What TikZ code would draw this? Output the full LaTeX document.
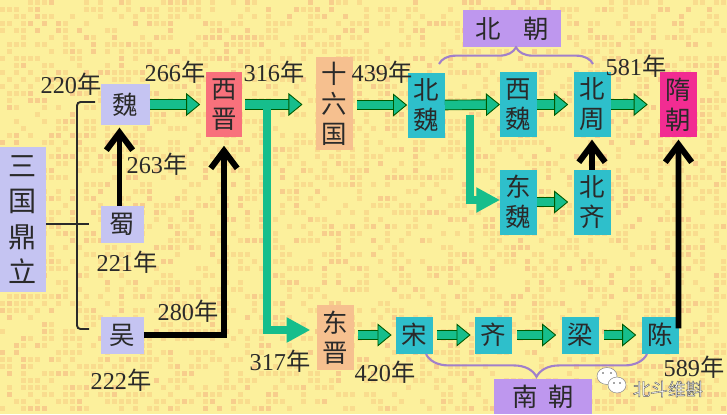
\documentclass[tikz,border=0pt]{standalone}
\usepackage{fontspec}
\setmainfont{Liberation Serif}
\newfontfamily\cjk{Noto Sans CJK SC}
\usetikzlibrary{arrows.meta,decorations.pathreplacing}
\definecolor{paper}{HTML}{FCF09C}
\definecolor{speck}{HTML}{F9DC8E}
\definecolor{speckdark}{HTML}{F7CD8C}
\definecolor{lav}{HTML}{C5C4F2}
\definecolor{jinred}{HTML}{F8717C}
\definecolor{peach}{HTML}{F6C08F}
\definecolor{teal2}{HTML}{2EBFCB}
\definecolor{suipink}{HTML}{F22C92}
\definecolor{chao}{HTML}{BE97EE}
\definecolor{fatgreen}{HTML}{16BE8C}
\definecolor{ink}{HTML}{2A2A2A}
\begin{document}
\begin{tikzpicture}[x=.02cm,y=-.02cm,inner sep=0pt,outer sep=0pt,
block/.style={rectangle,align=center,text=ink,font=\cjk\fontsize{14.5}{17}\selectfont,minimum width=.74cm,minimum height=1.3cm},
lavblock/.style={block,fill=lav,minimum width=.86cm,minimum height=.74cm},
tealblock/.style={block,fill=teal2},
tealsmall/.style={block,fill=teal2,minimum height=.74cm},
chaoblock/.style={block,fill=chao,minimum width=1.96cm},
year/.style={text=ink,font=\fontsize{13.8}{15}\selectfont},
fat/.style={draw=green!35!black,line width=.5pt,double=fatgreen,double distance=5pt,-{Triangle[length=8pt,width=13pt,fill=fatgreen]}},
fatbend/.style={draw=fatgreen,line width=4.5pt,-{Triangle[length=13.5pt,width=13.5pt,fill=fatgreen]}},
blackarrow/.style={draw=black,line width=3.4pt,-{Straight Barb[length=10pt,width=15pt]}},
bracket/.style={draw=ink,line width=1.1pt,rounded corners=2pt},
chaobrace/.style={draw=chao!85!black,line width=1.2pt,decorate},
wechat/.style={fill=white,draw=black!45,line width=.3pt},
eye/.style={fill=black!70}]

\useasboundingbox (0,0) rectangle (727,414);

%%% Background specks
\fill[paper] (0,0) rectangle (727,414);
\pgfmathsetseed{4711}
\foreach \xx in {0,7,...,721}{
	\foreach \yy in {0,7,...,409}{
		\pgfmathrandominteger{\speckon}{0}{19}
		\ifnum\speckon<7
			\fill[speck] (\xx,\yy) rectangle ++(5,5);
		\else\ifnum\speckon<9
			\fill[speckdark] (\xx,\yy) rectangle ++(5,5);
		\fi\fi
	}
}

%%% Blocks for top line
\draw (125.5,104.5) node[lavblock,minimum width=.98cm,minimum height=.82cm] (wei) {魏};
\draw (224,104.5) node[block,fill=jinred] (xijin) {西\\晋};
\draw (334.5,103.5) node[block,fill=peach,minimum height=1.86cm] (shiliu) {十\\六\\国};
\draw (426.5,105) node[tealblock] (beiwei) {北\\魏};
\draw (518.5,104.5) node[tealblock] (xiwei) {西\\魏};
\draw (592,104.5) node[tealblock] (beizhou) {北\\周};
\draw (678.5,104.5) node[block,fill=suipink] (suichao) {隋\\朝};

	%%% Below top line
	\draw (518.5,202) node[tealblock] (dongwei) {东\\魏};
	\draw (592,202) node[tealblock] (beiqi) {北\\齐};

%%% Blocks for left side
\draw (23,219.5) node[block,fill=lav,minimum width=.92cm,minimum height=2.9cm,font=\cjk\fontsize{16}{20}\selectfont] (sanguo) {三\\国\\鼎\\立};
\draw (122.5,224) node[lavblock] (shu) {蜀};
\draw (122.5,335) node[lavblock] (wu) {吴};

%%% Blocks for bottom line
\draw (335,337.5) node[block,fill=peach] (dongjin) {东\\晋};
\draw (414.5,335) node[tealsmall] (song) {宋};
\draw (493.5,335) node[tealsmall] (qi) {齐};
\draw (580,335) node[tealsmall] (liang) {梁};
\draw (660,335) node[tealsmall] (chen) {陈};

%%% Brace titles
\draw (512,28.5) node[chaoblock,minimum height=.74cm] (beichao) {北\hspace{.9em}朝};
\draw (543,396.5) node[chaoblock,minimum height=.7cm] (nanchao) {南\hspace{.4em}朝};

%%% Years
\draw (71,84) node[year] (y220) {220{\cjk 年}};
\draw (175,72) node[year] (y266) {266{\cjk 年}};
\draw (157,164) node[year] (y263) {263{\cjk 年}};
\draw (274,72) node[year] (y316) {316{\cjk 年}};
\draw (382,72) node[year] (y439) {439{\cjk 年}};
\draw (636,66) node[year] (y581) {581{\cjk 年}};
\draw (127,262) node[year] (y221) {221{\cjk 年}};
\draw (188,311) node[year] (y280) {280{\cjk 年}};
\draw (121,380) node[year] (y222) {222{\cjk 年}};
\draw (280,361) node[year] (y317) {317{\cjk 年}};
\draw (385,372) node[year] (y420) {420{\cjk 年}};
\draw (694,367) node[year] (y589) {589{\cjk 年}};

%%% Bracket of the three kingdoms
\draw[bracket] (sanguo.east |- shu.west) -- (89,224) coordinate (brmid);
\draw[bracket] (95,102) coordinate (brtop) -- (77,102) -- (77,329) -- (89,329) coordinate (brbot);

%%% Green arrows
\draw[fat,shorten >=3pt] (wei.east) -- (xijin.west);
\draw[fat] (xijin.east) ++(3,0) -- ++(57,0) coordinate (xijinend);
\draw[fat,shorten <=2.5pt,shorten >=.5pt] (shiliu.east |- beiwei.west) -- (beiwei.west);
\draw[fat] (beiwei.east) -- (xiwei.west);
\draw[fat,shorten >=3pt] (xiwei.east) -- (beizhou.west);
\draw[fat,shorten >=7pt] (beizhou.east) -- (suichao.west);
\draw[fat,shorten >=3pt] (dongwei.east) -- (beiqi.west);
\draw[fat,shorten <=2.5pt,shorten >=2.5pt] (dongjin.east |- song.west) -- (song.west);
\draw[fat,shorten <=2.5pt,shorten >=2.5pt] (song.east) -- (qi.west);
\draw[fat,shorten <=3pt,shorten >=3pt] (qi.east) -- (liang.west);
\draw[fat,shorten <=3pt,shorten >=3pt] (liang.east) -- (chen.west);

	%%% Green branches
	\draw[fatbend,shorten >=3.5pt] (267,105) coordinate (jinbranch) -- (267,330) -- (dongjin.west |- 0,330);
	\draw[fatbend] (470,115) coordinate (weibranch) -- (470,200) -- (dongwei.west |- 0,200);

%%% Black arrows
\draw[blackarrow,shorten >=1.5pt] (shu.north -| 119.5,0) -- (wei.south -| 119.5,0);
\draw[blackarrow,shorten >=5pt] (wu.east) -| (xijin.south);
\draw[blackarrow,shorten >=1.5pt] (beiqi.north) -- (beizhou.south);
\draw[blackarrow,shorten >=1.5pt] (chen.20) -- (suichao.south);

%%% Braces
\draw[chaobrace,decoration={brace,amplitude=9.5pt}] (439,64) coordinate (beileft) -- (593,64) coordinate (beiright);
\draw[chaobrace,decoration={brace,mirror,amplitude=13pt}] (426,354) coordinate (nanleft) -- (647,354) coordinate (nanright);

%%% Watermark
\filldraw[wechat] (607,376) ellipse (10 and 8.5);
\filldraw[wechat] (617,385) ellipse (9 and 8);
\fill[eye] (603,373) circle (.9) (611,373) circle (.9) (614,383) circle (.8) (620,383) circle (.8);
\draw (668,389) node[text=white,font=\cjk\fontsize{10}{12}\selectfont] (mark) {\special{pdf:code 2 Tr .22 w .35 G}北斗维斟\special{pdf:code 0 Tr}};

\end{tikzpicture}
\end{document}
